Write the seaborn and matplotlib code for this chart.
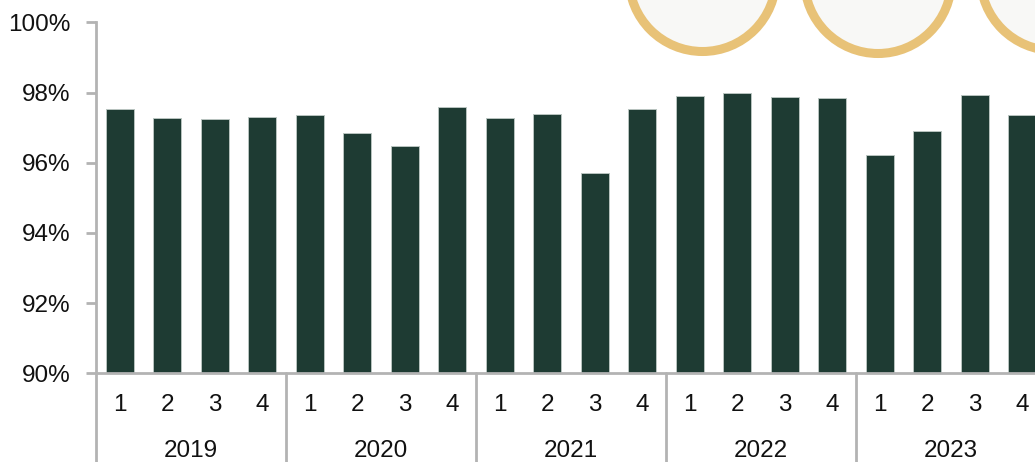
import matplotlib
matplotlib.use("Agg")
import matplotlib.pyplot as plt
from matplotlib.patches import Circle
from matplotlib.lines import Line2D
import matplotlib.transforms as mtransforms
import seaborn as sns
import pandas as pd

years = ["2019", "2020", "2021", "2022", "2023"]
quarters = ["1", "2", "3", "4"]
values = [
    97.52, 97.28, 97.24, 97.29,   # 2019
    97.35, 96.84, 96.48, 97.60,   # 2020
    97.28, 97.38, 95.70, 97.52,   # 2021
    97.91, 97.99, 97.88, 97.84,   # 2022
    96.21, 96.91, 97.94, 97.37,   # 2023
]
y_ticks = [90, 92, 94, 96, 98, 100]

labels = [f"{y}-{q}" for y in years for q in quarters]
df = pd.DataFrame({"period": labels, "value": values})

sns.set_theme(style="white")
plt.rcParams["font.family"] = ["Liberation Sans", "DejaVu Sans"]

W, H, DPI = 1035, 462, 100
FS = 17.5
fig = plt.figure(figsize=(W / DPI, H / DPI), dpi=DPI)
ax_left, ax_right = 96, 1035
ax_top, ax_bottom = 22.3, 373.3
ax = fig.add_axes([ax_left / W, (H - ax_bottom) / H,
                   (ax_right - ax_left) / W, (ax_bottom - ax_top) / H])

bar_color = "#1e3b33"
sns.barplot(data=df, x="period", y="value", order=labels, color=bar_color,
            width=0.58, edgecolor="#b9c4c0", linewidth=0.7, ax=ax,
            saturation=1, errorbar=None)

slot_px = 47.5
x_max = (ax_right - ax_left) / slot_px - 0.5
ax.set_xlim(-0.5, x_max)
ax.set_ylim(90, 100)

axis_color = "#b3b3b3"
for s in ["top", "right"]:
    ax.spines[s].set_visible(False)
for s in ["left", "bottom"]:
    ax.spines[s].set_color(axis_color)
    ax.spines[s].set_linewidth(2)

ax.set_yticks(y_ticks)
ax.set_yticklabels([f"{t}%" for t in y_ticks])
ax.tick_params(axis="y", length=7, width=2, color=axis_color, pad=11.5,
               labelsize=FS, labelcolor="#111111", left=True)

ax.set_xticks(range(len(labels)))
ax.set_xticklabels([q for _ in years for q in quarters])
ax.tick_params(axis="x", length=0, pad=15, labelsize=FS, labelcolor="#111111")
ax.set_xlabel("")
ax.set_ylabel("")

# year group separators and labels
trans = mtransforms.blended_transform_factory(ax.transData, ax.transAxes)
axes_h_px = ax_bottom - ax_top
bottom_frac = -(H - ax_bottom + 2) / axes_h_px
for i, yr in enumerate(years):
    start = i * 4 - 0.5
    if i > 0:
        ax.add_line(Line2D([start, start], [0, bottom_frac], transform=trans,
                           color=axis_color, linewidth=2, clip_on=False))
    ax.text(start + 2, -(451 - ax_bottom) / axes_h_px, yr, transform=trans,
            ha="center", va="center", fontsize=FS, color="#111111")
ax.add_line(Line2D([-0.5, -0.5], [0, bottom_frac], transform=trans,
                   color=axis_color, linewidth=2, clip_on=False))

# decorative rings at top right (pixel coordinates, origin bottom-left)
for cx, cy in [(702.5, -22), (878, -20), (1054, -23)]:
    circ = Circle((cx, H - cy), 73.5, transform=None,
                  facecolor="#f8f8f6", edgecolor="#e8c277", linewidth=6.5)
    fig.patches.append(circ)

fig.savefig("out.png", dpi=DPI)
